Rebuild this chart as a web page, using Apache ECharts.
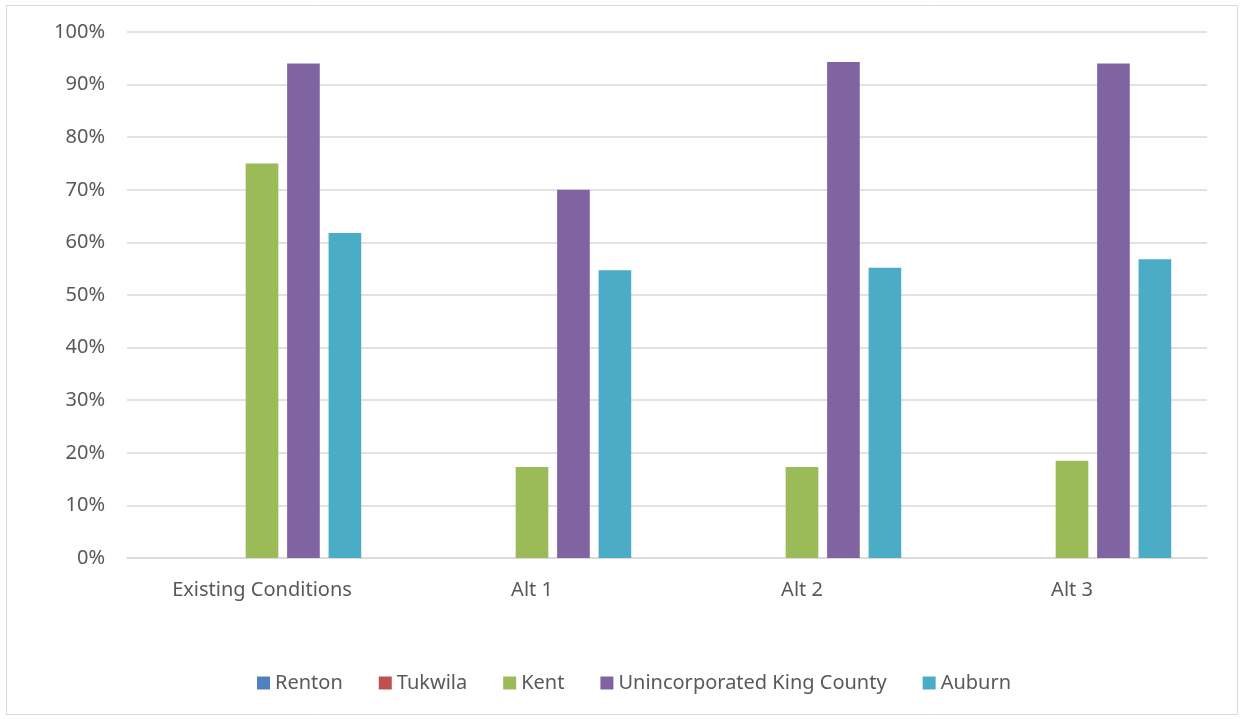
<!DOCTYPE html>
<html>
<head>
<meta charset="utf-8">
<script src="https://cdn.jsdelivr.net/npm/echarts@6/dist/echarts.min.js"></script>
<style>
html,body{margin:0;padding:0;background:#fff;}
#c{width:1244px;height:719px;}
</style>
</head>
<body>
<div id="c"></div>
<script>
const categories = ['Existing Conditions', 'Alt 1', 'Alt 2', 'Alt 3'];
const seriesNames = ['Renton', 'Tukwila', 'Kent', 'Unincorporated King County', 'Auburn'];
const renton = [0, 0, 0, 0];
const tukwila = [0, 0, 0, 0];
const kent = [75.0, 17.3, 17.3, 18.5];
const unincorporatedKC = [94.0, 70.0, 94.3, 94.0];
const auburn = [61.8, 54.7, 55.2, 56.8];
const colors = ['#4f81bd', '#c0504d', '#9bbb59', '#8064a2', '#4bacc6'];

const values = [renton, tukwila, kent, unincorporatedKC, auburn];
const chart = echarts.init(document.getElementById('c'));
const font = 'Noto Sans';
chart.setOption({
  animation: false,
  color: colors,
  grid: { left: 127, right: 37, top: 32, bottom: 161, containLabel: false },
  graphic: [{
    type: 'rect', shape: { x: 6.5, y: 5.5, width: 1231, height: 709 },
    style: { fill: 'none', stroke: '#d9d9d9', lineWidth: 1 }, silent: true, z: -1
  }],
  legend: {
    bottom: 21, left: 252, itemWidth: 13, itemHeight: 13, itemGap: 36,
    icon: 'rect',
    textStyle: { color: '#595959', fontSize: 20, fontFamily: font },
    data: seriesNames
  },
  xAxis: {
    type: 'category', data: categories,
    axisLine: { lineStyle: { color: '#d9d9d9', width: 1.5 } },
    axisTick: { show: false },
    axisLabel: { color: '#595959', fontSize: 20, fontFamily: font, margin: 22 }
  },
  yAxis: {
    type: 'value', min: 0, max: 100, interval: 10,
    axisLine: { show: false }, axisTick: { show: false },
    splitLine: { lineStyle: { color: '#d9d9d9', width: 1.5 } },
    axisLabel: { formatter: '{value}%', color: '#595959', fontSize: 20, fontFamily: font, margin: 22 }
  },
  series: seriesNames.map((n, i) => ({
    name: n, type: 'bar', data: values[i],
    barGap: '27%', barCategoryGap: '26.5%',
    itemStyle: { color: colors[i] }
  }))
});
</script>
</body>
</html>
